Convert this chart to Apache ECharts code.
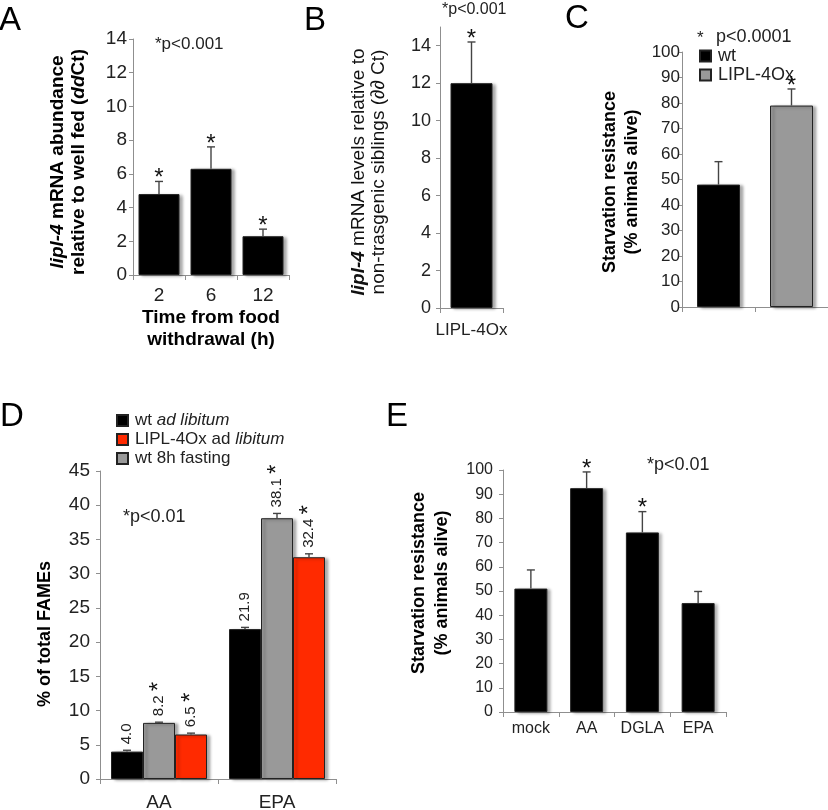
<!DOCTYPE html>
<html>
<head>
<meta charset="utf-8">
<script src="https://cdn.jsdelivr.net/npm/echarts@6/dist/echarts.min.js"></script>
<style>html,body{margin:0;padding:0;background:#fff;}#c{width:828px;height:810px;}</style>
</head>
<body>
<div id="c"></div>
<script>
// ---------- DATA ----------
// Panel A
const aCats = ['2', '6', '12'];
const aVals = [4.8, 6.3, 2.3];
const aSD = [0.75, 1.3, 0.42];
const aStar = [1, 1, 1];
// Panel B
const bCats = ['LIPL-4Ox'];
const bVals = [12.0];
const bSD = [2.2];
const bStar = [1];
const bTicks = [0, 2, 4, 6, 8, 10, 12, 14];
// Panel C
const cCats = ['wt', 'LIPL-4Ox'];
const cVals = [48, 79];
const cSD = [9, 6.5];
const cStar = [0, 1];
// Panel D
const dCats = ['AA', 'EPA'];
const dWtAd = [4.0, 21.9];
const dWtAdSD = [0.2, 0.25];
const dFast = [8.2, 38.1];
const dFastSD = [0.1, 0.7];
const dLipl = [6.5, 32.4];
const dLiplSD = [0.2, 0.5];
const dFastStar = [1, 1];
const dLiplStar = [1, 1];
const dWtStar = [0, 0];
// Panel E
const eCats = ['mock', 'AA', 'DGLA', 'EPA'];
const eVals = [51, 92.5, 74.2, 45];
const eSD = [7.7, 6.7, 8.6, 4.8];
const eStar = [0, 1, 1, 0];

// ---------- STYLE ----------
const FONT = "'Liberation Sans', Arial, sans-serif";
const AXC = '#8f8f8f';
const TXC = '#222';
const ERRC = '#444';
const shadow = { shadowColor: 'rgba(0,0,0,0.35)', shadowBlur: 3, shadowOffsetX: 3, shadowOffsetY: 1 };

function xAx(gi, cats, fs, margin, show) {
  return {
    type: 'category', gridIndex: gi, data: cats,
    axisLine: { lineStyle: { color: AXC, width: 1 } },
    axisTick: { show: true, length: 5, lineStyle: { color: AXC } },
    axisLabel: { show: show !== false, interval: 0, color: TXC, fontSize: fs, fontFamily: FONT, margin: margin },
    splitLine: { show: false }
  };
}
function yAx(gi, max, interval, fs, margin, extra) {
  const o = {
    type: 'value', gridIndex: gi, min: 0, max: max, interval: interval,
    axisLine: { show: true, lineStyle: { color: AXC, width: 1 } },
    axisTick: { show: true, length: 4, lineStyle: { color: AXC } },
    axisLabel: { color: TXC, fontSize: fs, fontFamily: FONT, margin: margin },
    splitLine: { show: false }
  };
  if (extra) {
    o.axisLabel.customValues = extra;
    o.axisTick.customValues = extra;
  }
  return o;
}

function errSeries(ai, vals, sds, offset, stars, cap, mode) {
  return {
    type: 'custom', xAxisIndex: ai, yAxisIndex: ai, z: 5, silent: true,
    data: vals.map((v, i) => [i, v, sds[i], stars[i]]),
    renderItem: function (params, api) {
      const i = api.value(0), v = api.value(1), sd = api.value(2), st = api.value(3);
      const b = api.coord([i, v]);
      const t = api.coord([i, v + sd]);
      const x = b[0] + offset;
      const ch = [
        { type: 'line', shape: { x1: x, y1: b[1], x2: x, y2: t[1] }, style: { stroke: ERRC, lineWidth: 1.4 } },
        { type: 'line', shape: { x1: x - cap / 2, y1: t[1], x2: x + cap / 2, y2: t[1] }, style: { stroke: ERRC, lineWidth: 1.4 } }
      ];
      if (mode === 'label') {
        const txt = v.toFixed(1) + (st ? ' {s|*}' : '');
        ch.push({
          type: 'text', x: x, y: t[1] - 6, rotation: Math.PI / 2,
          style: {
            text: txt, align: 'left', verticalAlign: 'middle',
            font: '15px ' + FONT, fill: '#222',
            rich: { s: { fontSize: 24, fontFamily: FONT, fill: '#111', verticalAlign: 'middle' } }
          }
        });
      } else if (st) {
        ch.push({
          type: 'text', x: x, y: t[1] + 9,
          style: { text: '*', align: 'center', verticalAlign: 'bottom', font: '24px ' + FONT, fill: '#111' }
        });
      }
      return { type: 'group', children: ch };
    }
  };
}

function barS(name, ai, data, color, width, extra) {
  return Object.assign({
    type: 'bar', name: name, xAxisIndex: ai, yAxisIndex: ai, data: data, barWidth: width,
    itemStyle: Object.assign({ color: color, borderColor: '#222', borderWidth: 1 }, shadow)
  }, extra || {});
}

function txt(x, y, text, font, opts) {
  return Object.assign({
    type: 'text', x: x, y: y,
    style: Object.assign({ text: text, font: font, fill: TXC, align: 'left', verticalAlign: 'middle' }, (opts && opts.style) || {})
  }, (opts && opts.el) || {});
}

const chart = echarts.init(document.getElementById('c'), null, { renderer: 'canvas' });

const option = {
  animation: false,
  backgroundColor: '#fff',
  grid: [
    { left: 133, top: 39, width: 156, height: 236, outerBoundsMode: 'none', containLabel: false },
    { left: 440, top: 27, width: 63, height: 281, outerBoundsMode: 'none', containLabel: false },
    { left: 682, top: 52, width: 146, height: 255, outerBoundsMode: 'none', containLabel: false },
    { left: 100, top: 471, width: 236, height: 308, outerBoundsMode: 'none', containLabel: false },
    { left: 503, top: 470, width: 223, height: 242, outerBoundsMode: 'none', containLabel: false }
  ],
  xAxis: [
    xAx(0, aCats, 19, 11),
    xAx(1, bCats, 17, 14),
    xAx(2, cCats, 16, 10, false),
    xAx(3, dCats, 19, 14),
    xAx(4, eCats, 16, 9)
  ],
  yAxis: [
    yAx(0, 14, 2, 19, 6),
    yAx(1, 15, 1, 18, 9, bTicks),
    yAx(2, 100, 10, 17, 2),
    yAx(3, 45, 5, 19, 10),
    yAx(4, 100, 10, 16, 10)
  ],
  legend: [
    {
      data: ['wt', 'LIPL-4Ox'], left: 694, top: 42, orient: 'vertical', itemGap: 1,
      icon: 'rect', itemWidth: 11, itemHeight: 11, selectedMode: false,
      textStyle: { fontSize: 18, fontFamily: FONT, color: TXC, padding: [0, 0, 0, 2] }
    },
    {
      data: ['wt ad libitum', 'LIPL-4Ox ad libitum', 'wt 8h fasting'], left: 111, top: 407,
      orient: 'vertical', itemGap: 2, icon: 'rect', itemWidth: 11, itemHeight: 11, selectedMode: false,
      formatter: function (n) {
        if (n === 'wt ad libitum') return 'wt {i|ad libitum}';
        if (n === 'LIPL-4Ox ad libitum') return 'LIPL-4Ox ad {i|libitum}';
        return n;
      },
      textStyle: {
        fontSize: 17, fontFamily: FONT, color: TXC, padding: [0, 0, 0, 2],
        rich: { i: { fontSize: 17, fontFamily: FONT, fontStyle: 'italic', color: TXC } }
      }
    }
  ],
  series: [
    // A
    barS('A', 0, aVals, '#000', 41),
    errSeries(0, aVals, aSD, 0, aStar, 8),
    // B
    barS('B', 1, bVals, '#000', 42),
    errSeries(1, bVals, bSD, 0, bStar, 8),
    // C
    barS('wt', 2, [cVals[0], '-'], '#000', 43, { barGap: '-100%' }),
    barS('LIPL-4Ox', 2, ['-', cVals[1]], '#999', 43, { barGap: '-100%' }),
    errSeries(2, cVals, cSD, 0, cStar, 8),
    // D (plot order: black, gray, red)
    barS('wt ad libitum', 3, dWtAd, '#000', 32, { barGap: '0%' }),
    barS('wt 8h fasting', 3, dFast, '#999', 32, { barGap: '0%' }),
    barS('LIPL-4Ox ad libitum', 3, dLipl, '#ff2a00', 32, { barGap: '0%' }),
    errSeries(3, dWtAd, dWtAdSD, -32, dWtStar, 8, 'label'),
    errSeries(3, dFast, dFastSD, 0, dFastStar, 8, 'label'),
    errSeries(3, dLipl, dLiplSD, 32, dLiplStar, 8, 'label'),
    // E
    barS('E', 4, eVals, '#000', 33),
    errSeries(4, eVals, eSD, 0, eStar, 8)
  ],
  graphic: [
    // panel letters
    txt(-1, 21, 'A', '33px ' + FONT, { style: { fill: '#000' } }),
    txt(304, 21, 'B', '33px ' + FONT, { style: { fill: '#000' } }),
    txt(565, 19, 'C', '33px ' + FONT, { style: { fill: '#000' } }),
    txt(0, 417, 'D', '33px ' + FONT, { style: { fill: '#000' } }),
    txt(386, 417, 'E', '33px ' + FONT, { style: { fill: '#000' } }),
    // p-value notes
    txt(155, 44, '*p<0.001', '17px ' + FONT),
    txt(442, 10, '*p<0.001', '16px ' + FONT),
    txt(697, 38, '*', '17px ' + FONT),
    txt(716, 37, 'p<0.0001', '18px ' + FONT),
    txt(123, 517, '*p<0.01', '18px ' + FONT),
    txt(647, 465, '*p<0.01', '18px ' + FONT),
    // axis titles
    txt(68, 162, '{bi|lipl-4} mRNA abundance\nrelative to well fed ({bi|dd}Ct)', 'bold 19px ' + FONT, {
      style: { align: 'center', verticalAlign: 'middle', lineHeight: 21, fill: '#000',
        rich: { bi: { fontSize: 19, fontWeight: 'bold', fontStyle: 'italic', fontFamily: FONT, fill: '#000' } } },
      el: { rotation: Math.PI / 2 }
    }),
    txt(211, 329, 'Time from food\nwithdrawal (h)', 'bold 19px ' + FONT, {
      style: { align: 'center', verticalAlign: 'middle', lineHeight: 22, fill: '#000' }
    }),
    txt(369, 172, '{bi|lipl-4} mRNA levels relative to\nnon-trasgenic siblings ({i|∂∂} Ct)', '19px ' + FONT, {
      style: { align: 'center', verticalAlign: 'middle', lineHeight: 20, fill: '#111',
        rich: {
          bi: { fontSize: 19, fontWeight: 'bold', fontStyle: 'italic', fontFamily: FONT, fill: '#111' },
          i: { fontSize: 19, fontStyle: 'italic', fontFamily: FONT, fill: '#111' }
        } },
      el: { rotation: Math.PI / 2 }
    }),
    txt(621, 182, 'Starvation resistance\n(% animals alive)', 'bold 18px ' + FONT, {
      style: { align: 'center', verticalAlign: 'middle', lineHeight: 22, fill: '#000' },
      el: { rotation: Math.PI / 2 }
    }),
    txt(45, 634, '% of total FAMEs', 'bold 18px ' + FONT, {
      style: { align: 'center', verticalAlign: 'middle', fill: '#000' },
      el: { rotation: Math.PI / 2 }
    }),
    txt(431, 583, 'Starvation resistance\n(% animals alive)', 'bold 18px ' + FONT, {
      style: { align: 'center', verticalAlign: 'middle', lineHeight: 23, fill: '#000' },
      el: { rotation: Math.PI / 2 }
    })
  ]
};
chart.setOption(option);
</script>
</body>
</html>
